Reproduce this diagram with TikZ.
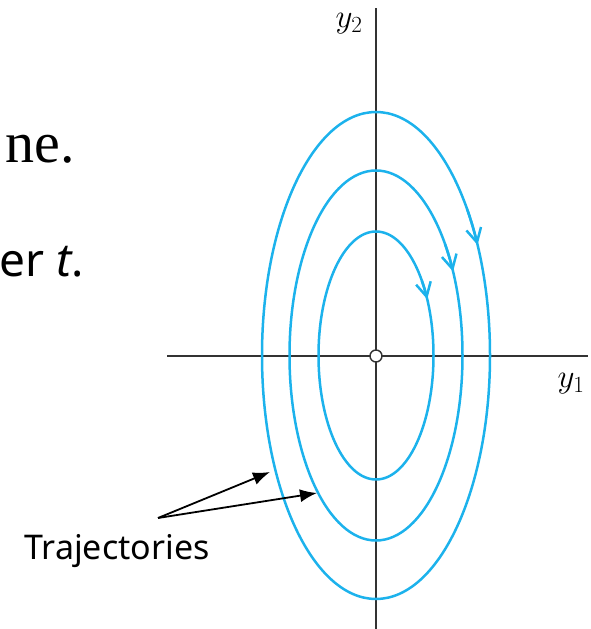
\RequirePackage{fix-cm}
\documentclass[tikz,border=0pt]{standalone}
\usepackage{fontspec}
\setmainfont{Liberation Serif}
\newfontfamily\slidesans{Noto Sans}
\usetikzlibrary{arrows.meta}
\definecolor{orbit}{HTML}{1CB2EC}
\definecolor{axisgray}{HTML}{333333}

\begin{document}
\begin{tikzpicture}[x=1pt,y=1pt,every node/.style={inner sep=0pt},
  orbitline/.style={orbit,line width=2.5pt},
  axisline/.style={axisgray,line width=1.5pt},
  pointer/.style={line width=1.8pt,-{Latex[length=17pt,width=13pt]}}]
\clip (0,0) rectangle (590,629);
\node[anchor=base east,font=\fontsize{58}{60}\selectfont] (ne) at (75,466) {ne.};
\node[anchor=base east,font=\slidesans\fontsize{46}{60}\selectfont] (ert) at (84,352) {er \textit{t}.};
\draw[axisline] (167,273) -- (588,273);
\draw[axisline] (376,0) -- (376,621);
\foreach \a/\b in {57.5/124,86.5/185,114/243.5}{
  \draw[orbitline] (376,273.5) ellipse[x radius=\a,y radius=\b];
  \draw[orbitline,-{Straight Barb[length=14pt,width=15pt]}] (376,273.5) ++(37:{\a} and {\b})
    arc[start angle=37,end angle=27,x radius=\a,y radius=\b];
}
\node[circle,draw=axisgray,fill=white,line width=1.4pt,minimum size=12pt] (o) at (376,273) {};
\node[font=\fontsize{33}{33}\selectfont] (y2) at (349,605) {$y_2$};
\node[font=\fontsize{33}{33}\selectfont] (y1) at (571,245) {$y_1$};
\node[font=\slidesans\fontsize{34}{40}\selectfont] (trajlabel) at (117,78) {Trajectories};
\coordinate (fork) at (158,111);
\coordinate (hit1) at (270,157);
\coordinate (hit2) at (317,136);
\draw[pointer] (fork) -- (hit1);
\draw[pointer] (fork) -- (hit2);
\end{tikzpicture}
\end{document}
